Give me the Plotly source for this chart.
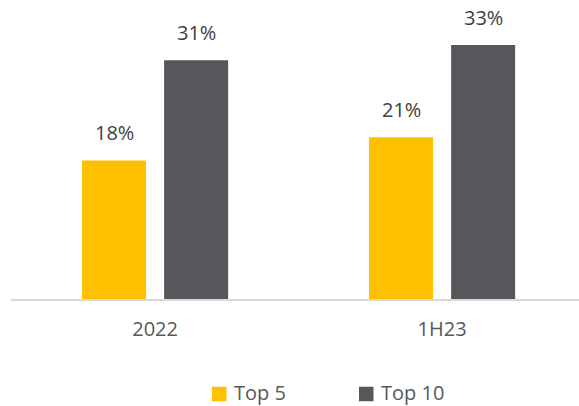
import plotly.graph_objects as go

# Chart data
periods = ["2022", "1H23"]
series_names = ["Top 5", "Top 10"]
top5_share = [18, 21]
top10_share = [31, 33]
series_values = [top5_share, top10_share]
series_colors = ["#FFC000", "#56575B"]

FONT = "Open Sans"
W, H = 579, 406
M_L, M_R, M_T, M_B = 11, 0, 5, 107
PLOT_W = W - M_L - M_R
PLOT_H = H - M_T - M_B
x_pos = list(range(len(periods)))


def px_to_paper(px, py):
    """Convert figure pixel position to paper coordinates."""
    return (px - M_L) / PLOT_W, (H - M_B - py) / PLOT_H


fig = go.Figure()
for name, vals, color in zip(series_names, series_values, series_colors):
    fig.add_trace(go.Bar(
        name=name, x=x_pos, y=vals, marker_color=color,
        marker_line_width=0, hoverinfo="skip", showlegend=False,
    ))

# value labels above each bar
BARGAP = 0.428
half_slot = (1 - BARGAP) / 4
for k, vals in enumerate(series_values):
    shift = -half_slot if k == 0 else half_slot
    for i, v in enumerate(vals):
        fig.add_annotation(
            x=i + shift, y=v, xref="x", yref="y", text=f"{v}%",
            showarrow=False, yanchor="bottom", yshift=12,
            font=dict(family=FONT, size=20, color="#404040"),
        )

# legend row below the axis
legend_left = [212, 359]
square_cy = 394
text_cy = 392
sq = 14.5
for left, name, color in zip(legend_left, series_names, series_colors):
    x0, y0 = px_to_paper(left, square_cy + sq / 2)
    x1, y1 = px_to_paper(left + sq, square_cy - sq / 2)
    fig.add_shape(type="rect", xref="paper", yref="paper",
                  x0=x0, x1=x1, y0=y0, y1=y1,
                  fillcolor=color, line_width=0)
    tx, ty = px_to_paper(left + sq + 6, text_cy)
    fig.add_annotation(x=tx, y=ty, xref="paper", yref="paper", text=name,
                       showarrow=False, xanchor="left", yanchor="middle",
                       borderpad=0,
                       font=dict(family=FONT, size=20, color="#595959"))

fig.update_layout(
    width=W, height=H,
    margin=dict(l=M_L, r=M_R, t=M_T, b=M_B, autoexpand=False),
    paper_bgcolor="white", plot_bgcolor="white",
    barmode="group", bargap=BARGAP, bargroupgap=0.22,
    font=dict(family=FONT, size=20, color="#595959"),
    xaxis=dict(
        range=[-0.502, 1.477], tickvals=x_pos, ticktext=periods,
        showline=True, linecolor="#D9D9D9", linewidth=1.5,
        showgrid=False, zeroline=False, ticks="", ticklabelstandoff=11,
        tickfont=dict(family=FONT, size=20, color="#595959"),
        fixedrange=True,
    ),
    yaxis=dict(range=[0, PLOT_H / 7.7], visible=False, fixedrange=True),
    showlegend=False,
)

fig.write_html("out.html")
